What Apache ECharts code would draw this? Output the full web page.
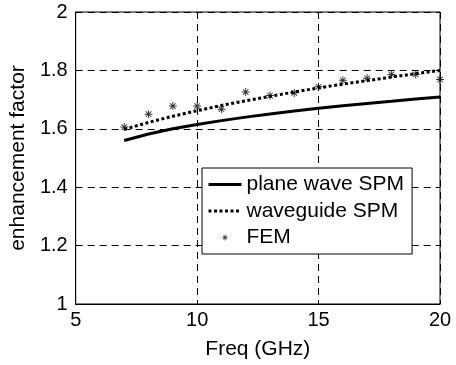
<!DOCTYPE html>
<html>
<head>
<meta charset="utf-8">
<script src="https://cdn.jsdelivr.net/npm/echarts@6/dist/echarts.min.js"></script>
<style>html,body{margin:0;padding:0;background:#fff}#c{width:456px;height:365px}</style>
</head>
<body>
<div id="c"></div>
<script>
const freq = [7, 8, 9, 10, 11, 12, 13, 14, 15, 16, 17, 18, 19, 20];
const planeWaveSPM = [1.560, 1.582, 1.600, 1.615, 1.628, 1.640, 1.651, 1.661, 1.670, 1.679, 1.687, 1.694, 1.702, 1.709];
const waveguideSPM = [1.598, 1.622, 1.643, 1.662, 1.680, 1.696, 1.711, 1.726, 1.740, 1.753, 1.765, 1.777, 1.789, 1.800];
const fem = [1.606, 1.650, 1.678, 1.678, 1.667, 1.726, 1.714, 1.723, 1.744, 1.766, 1.773, 1.786, 1.786, 1.769];
const seriesNames = ['plane wave SPM', 'waveguide SPM', 'FEM'];
const xTitle = 'Freq (GHz)';
const yTitle = 'enhancement factor';

const pair = (xs, ys) => xs.map((x, i) => [x, ys[i]]);
// asterisk occupying the central third of its symbol box
const star = 'path://M-10,-10 L-9.99,-10 M20,20 L19.99,20 ' +
  'M4.4,0 L5.6,0 L5.6,10 L4.4,10 Z M0,4.4 L10,4.4 L10,5.6 L0,5.6 Z ' +
  'M1.1,1.9 L1.9,1.1 L8.9,8.1 L8.1,8.9 Z M8.1,1.1 L8.9,1.9 L1.9,8.9 L1.1,8.1 Z';
// invisible symbol (degenerate segments at two corners)
const noSymbol = 'path://M0,0 L0.001,0 M10,10 L10.001,10';
const font = 'Liberation Sans, Arial, Helvetica, sans-serif';
const FS = 20;
const FT = 21;
const dotted = [3, 2.5];
const gridLine = { show: true, lineStyle: { color: '#000', width: 1, type: [7, 5] } };

const chart = echarts.init(document.getElementById('c'), null, { renderer: 'canvas' });
chart.setOption({
  animation: false,
  backgroundColor: '#fff',
  textStyle: { fontFamily: font, color: '#000' },
  grid: { left: 74, right: 16, top: 12, bottom: 59, show: true, borderColor: '#000', borderWidth: 1, backgroundColor: 'transparent' },
  xAxis: {
    type: 'value', min: 5, max: 20, interval: 5,
    name: xTitle, nameLocation: 'middle', nameGap: 35,
    nameTextStyle: { fontSize: FT, color: '#000', fontFamily: font },
    axisLine: { show: true, lineStyle: { color: '#000' } },
    axisTick: { show: true, inside: true, length: 4, lineStyle: { color: '#000' } },
    axisLabel: { fontSize: FS, color: '#000', margin: 6, fontFamily: font },
    splitLine: gridLine
  },
  yAxis: {
    type: 'value', min: 1, max: 2, interval: 0.2,
    name: yTitle, nameLocation: 'middle', nameGap: 46,
    nameTextStyle: { fontSize: FT, color: '#000', fontFamily: font },
    axisLine: { show: true, lineStyle: { color: '#000' } },
    axisTick: { show: true, inside: true, length: 4, lineStyle: { color: '#000' } },
    axisLabel: { fontSize: FS, color: '#000', margin: 8, fontFamily: font },
    splitLine: gridLine
  },
  legend: {
    orient: 'vertical', left: 202, top: 168,
    backgroundColor: '#fff', borderColor: '#000', borderWidth: 1,
    padding: [5.5, 8, 5.5, 5], itemGap: 4.5, itemWidth: 33, itemHeight: 18,
    textStyle: { fontSize: FT, lineHeight: 22, color: '#000', fontFamily: font },
    data: [
      { name: seriesNames[0], lineStyle: { width: 3, type: 'solid', color: '#000' } },
      { name: seriesNames[1], lineStyle: { width: 3, type: dotted, color: '#000' } },
      { name: seriesNames[2] }
    ]
  },
  series: [
    {
      name: seriesNames[0], type: 'line', data: pair(freq, planeWaveSPM),
      showSymbol: false, symbol: noSymbol,
      lineStyle: { color: '#000', width: 3, type: 'solid' }, itemStyle: { color: '#000' }
    },
    {
      name: seriesNames[1], type: 'line', data: pair(freq, waveguideSPM),
      showSymbol: false, symbol: noSymbol,
      lineStyle: { color: '#000', width: 3, type: dotted }, itemStyle: { color: '#000' }
    },
    {
      name: seriesNames[2], type: 'scatter', data: pair(freq, fem),
      symbol: star, symbolSize: 24, itemStyle: { color: '#000' }
    }
  ]
});
</script>
</body>
</html>
